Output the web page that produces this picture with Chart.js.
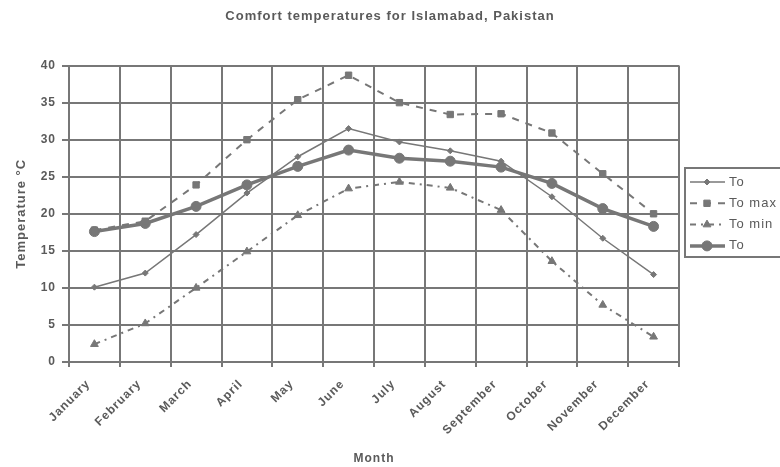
<!DOCTYPE html>
<html>
<head>
<meta charset="utf-8">
<script src="https://cdn.jsdelivr.net/npm/chart.js@4/dist/chart.umd.min.js"></script>
<style>
  html, body { margin: 0; padding: 0; background: #fff; overflow: hidden; }
  #wrap { width: 780px; height: 467px; }
</style>
</head>
<body>
<div id="wrap"><canvas id="c" width="780" height="467"></canvas></div>
<script>
// Monthly comfort / outdoor temperatures, Islamabad (°C)
const months = ['January', 'February', 'March', 'April', 'May', 'June',
                'July', 'August', 'September', 'October', 'November', 'December'];
const comfortT = [10.1, 12.0, 17.2, 22.8, 27.7, 31.5, 29.7, 28.5, 27.1, 22.3, 16.7, 11.8];
const maxT     = [17.8, 19.0, 23.9, 30.0, 35.4, 38.7, 35.0, 33.4, 33.5, 30.9, 25.4, 20.0];
const minT     = [2.4, 5.2, 10.0, 14.9, 19.8, 23.4, 24.3, 23.5, 20.5, 13.6, 7.7, 3.4];
const meanT    = [17.6, 18.7, 21.0, 23.9, 26.4, 28.6, 27.5, 27.1, 26.3, 24.1, 20.7, 18.3];
const seriesNames = ['To', 'To max', 'To min', 'To'];
const yTicks = [0, 5, 10, 15, 20, 25, 30, 35, 40];

const INK = '#777777';
const TEXT = '#5a5a5a';
const FONT = '"Liberation Sans", Arial, sans-serif';

// Spread glyphs a little, like the old spreadsheet export
const spacing = {
  id: 'spacing',
  afterInit(chart) { chart.ctx.letterSpacing = '1px'; }
};

// Framed legend sitting right of the plot area
const boxLegend = {
  id: 'boxLegend',
  afterDraw(chart, args, o) {
    const ctx = chart.ctx;
    ctx.save();
    ctx.setLineDash([]);
    ctx.strokeStyle = INK;
    ctx.lineWidth = 2;
    ctx.strokeRect(o.x, o.y, o.w, o.h);
    chart.data.datasets.forEach((ds, i) => {
      const y = o.y + o.first + i * o.step;
      ctx.strokeStyle = ds.borderColor;
      ctx.lineWidth = ds.borderWidth;
      ctx.setLineDash(ds.borderDash || []);
      ctx.beginPath();
      ctx.moveTo(o.x + 5, y);
      ctx.lineTo(o.x + 40, y);
      ctx.stroke();
      ctx.setLineDash([]);
      ctx.fillStyle = ds.pointBackgroundColor;
      ctx.strokeStyle = ds.pointBorderColor;
      ctx.lineWidth = 1;
      Chart.helpers.drawPoint(ctx, {
        pointStyle: ds.pointStyle, radius: ds.pointRadius, rotation: 0, borderWidth: 1
      }, o.x + 22, y);
      ctx.fillStyle = TEXT;
      ctx.font = '13px ' + FONT;
      ctx.textBaseline = 'middle';
      ctx.textAlign = 'left';
      ctx.fillText(ds.label, o.x + 44, y);
    });
    ctx.restore();
  }
};

function series(label, data, extra) {
  return Object.assign({
    label, data,
    borderColor: INK,
    backgroundColor: INK,
    pointBackgroundColor: INK,
    pointBorderColor: INK,
    pointBorderWidth: 1,
    tension: 0,
    fill: false
  }, extra);
}

new Chart(document.getElementById('c'), {
  type: 'line',
  data: {
    labels: months,
    datasets: [
      series(seriesNames[0], comfortT, { borderWidth: 1.5, pointStyle: 'rectRot', pointRadius: 3 }),
      series(seriesNames[1], maxT, { borderWidth: 2, borderDash: [7, 7], pointStyle: 'rect', pointRadius: 4.5 }),
      series(seriesNames[2], minT, { borderWidth: 2, borderDash: [6, 5, 2, 5], pointStyle: 'triangle', pointRadius: 4.5 }),
      series(seriesNames[3], meanT, { borderWidth: 3.5, pointStyle: 'circle', pointRadius: 5 })
    ]
  },
  options: {
    responsive: false,
    animation: false,
    layout: { padding: 0 },
    plugins: {
      legend: { display: false },
      tooltip: { enabled: false },
      title: {
        display: true,
        text: 'Comfort temperatures for Islamabad, Pakistan',
        color: TEXT,
        font: { family: FONT, size: 13, weight: 'bold' },
        padding: { top: 9, bottom: 41 }
      },
      boxLegend: { x: 685, y: 168, w: 130, h: 89, first: 14, step: 21.3 }
    },
    scales: {
      x: {
        offset: true,
        grid: { offset: true, color: INK, lineWidth: 2, tickLength: 5, drawTicks: true },
        border: { color: INK, width: 2 },
        ticks: {
          color: TEXT, autoSkip: false, maxRotation: 45, minRotation: 45,
          padding: 10, labelOffset: -6,
          font: { family: FONT, size: 12, weight: 'bold' }
        },
        title: {
          display: true, text: 'Month', color: TEXT,
          font: { family: FONT, size: 12, weight: 'bold' },
          padding: { top: 0, bottom: 1 }
        },
        afterFit(s) { s.height = 105; }
      },
      y: {
        min: 0, max: 40,
        afterBuildTicks(s) { s.ticks = yTicks.map(v => ({ value: v })); },
        grid: { color: INK, lineWidth: 2, tickLength: 7 },
        border: { color: INK, width: 2 },
        ticks: {
          color: TEXT, padding: 6,
          font: { family: FONT, size: 12, weight: 'bold' }
        },
        title: {
          display: true, text: 'Temperature °C', color: TEXT,
          font: { family: FONT, size: 13, weight: 'bold' },
          padding: { top: 14, bottom: 0 }
        },
        afterFit(s) { s.width = 69; }
      },
      // empty band on the right that leaves room for the framed legend
      side: {
        position: 'right',
        min: 0, max: 40,
        grid: { display: false, drawTicks: false },
        border: { display: false },
        ticks: { display: false },
        afterFit(s) { s.width = 101; }
      }
    }
  },
  plugins: [spacing, boxLegend]
});
</script>
</body>
</html>
